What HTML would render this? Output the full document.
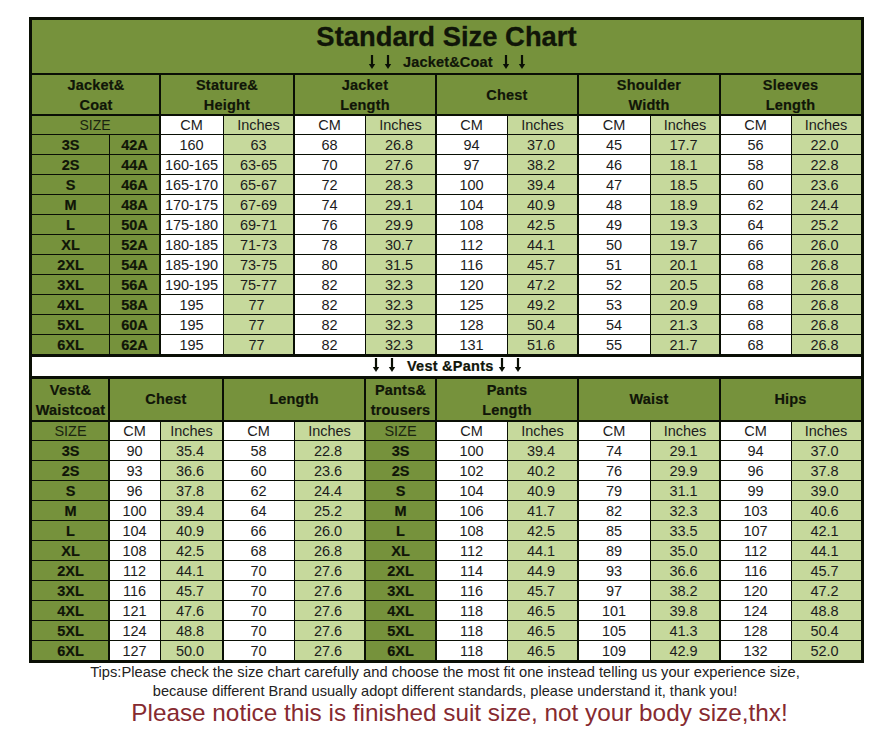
<!DOCTYPE html><html><head><meta charset="utf-8"><style>
html,body{margin:0;padding:0;background:#fff;}
body{width:890px;height:730px;position:relative;overflow:hidden;font-family:"Liberation Sans",sans-serif;}
.r{position:absolute;}
.t{position:absolute;text-align:center;white-space:nowrap;}
.title{font-size:27.4px;font-weight:bold;color:#101508;-webkit-text-stroke:0.3px #101508;}
.sub{font-size:14.5px;font-weight:bold;color:#101508;-webkit-text-stroke:0.2px #101508;}
.hdr{font-size:14.5px;font-weight:bold;letter-spacing:0.2px;color:#101508;-webkit-text-stroke:0.2px #101508;line-height:20px;display:flex;align-items:center;justify-content:center;}
.sz{font-size:14.5px;color:#1a2410;}
.cm{font-size:14.5px;color:#1c1c1c;}
.b{font-size:14.5px;font-weight:bold;color:#101508;-webkit-text-stroke:0.2px #101508;}
.d{font-size:14.5px;color:#1c1c1c;}
.tip{font-size:14.6px;color:#222;}
.red{font-size:24.3px;color:#862a30;}
</style></head><body>
<div class="r" style="left:29px;top:17px;width:835px;height:646px;background:#76923c"></div>
<div class="r" style="left:160px;top:115px;width:63px;height:240px;background:#ffffff"></div>
<div class="r" style="left:223px;top:115px;width:71px;height:240px;background:#c6d99c"></div>
<div class="r" style="left:294px;top:115px;width:71px;height:240px;background:#ffffff"></div>
<div class="r" style="left:365px;top:115px;width:71px;height:240px;background:#c6d99c"></div>
<div class="r" style="left:436px;top:115px;width:71px;height:240px;background:#ffffff"></div>
<div class="r" style="left:507px;top:115px;width:71px;height:240px;background:#c6d99c"></div>
<div class="r" style="left:578px;top:115px;width:72px;height:240px;background:#ffffff"></div>
<div class="r" style="left:650px;top:115px;width:70px;height:240px;background:#c6d99c"></div>
<div class="r" style="left:720px;top:115px;width:71px;height:240px;background:#ffffff"></div>
<div class="r" style="left:791px;top:115px;width:70px;height:240px;background:#c6d99c"></div>
<div class="r" style="left:32px;top:355px;width:829px;height:23px;background:#ffffff"></div>
<div class="r" style="left:109px;top:421px;width:51px;height:239px;background:#ffffff"></div>
<div class="r" style="left:160px;top:421px;width:63px;height:239px;background:#c6d99c"></div>
<div class="r" style="left:223px;top:421px;width:71px;height:239px;background:#ffffff"></div>
<div class="r" style="left:294px;top:421px;width:71px;height:239px;background:#c6d99c"></div>
<div class="r" style="left:436px;top:421px;width:71px;height:239px;background:#ffffff"></div>
<div class="r" style="left:507px;top:421px;width:71px;height:239px;background:#c6d99c"></div>
<div class="r" style="left:578px;top:421px;width:72px;height:239px;background:#ffffff"></div>
<div class="r" style="left:650px;top:421px;width:70px;height:239px;background:#c6d99c"></div>
<div class="r" style="left:720px;top:421px;width:71px;height:239px;background:#ffffff"></div>
<div class="r" style="left:791px;top:421px;width:70px;height:239px;background:#c6d99c"></div>
<div class="r" style="left:29px;top:17px;width:835px;height:3px;background:#0a0f05"></div>
<div class="r" style="left:29px;top:660px;width:835px;height:3px;background:#0a0f05"></div>
<div class="r" style="left:29px;top:17px;width:3px;height:646px;background:#0a0f05"></div>
<div class="r" style="left:861px;top:17px;width:3px;height:646px;background:#0a0f05"></div>
<div class="r" style="left:32px;top:73px;width:829px;height:2px;background:#0a0f05"></div>
<div class="r" style="left:32px;top:114px;width:829px;height:2px;background:#0a0f05"></div>
<div class="r" style="left:32px;top:134px;width:829px;height:1px;background:#0a0f05"></div>
<div class="r" style="left:32px;top:154px;width:829px;height:1px;background:#0a0f05"></div>
<div class="r" style="left:32px;top:174px;width:829px;height:1px;background:#0a0f05"></div>
<div class="r" style="left:32px;top:194px;width:829px;height:1px;background:#0a0f05"></div>
<div class="r" style="left:32px;top:214px;width:829px;height:1px;background:#0a0f05"></div>
<div class="r" style="left:32px;top:234px;width:829px;height:1px;background:#0a0f05"></div>
<div class="r" style="left:32px;top:254px;width:829px;height:1px;background:#0a0f05"></div>
<div class="r" style="left:32px;top:274px;width:829px;height:1px;background:#0a0f05"></div>
<div class="r" style="left:32px;top:294px;width:829px;height:1px;background:#0a0f05"></div>
<div class="r" style="left:32px;top:314px;width:829px;height:1px;background:#0a0f05"></div>
<div class="r" style="left:32px;top:334px;width:829px;height:1px;background:#0a0f05"></div>
<div class="r" style="left:32px;top:354px;width:829px;height:3px;background:#0a0f05"></div>
<div class="r" style="left:32px;top:376px;width:829px;height:3px;background:#0a0f05"></div>
<div class="r" style="left:32px;top:420px;width:829px;height:2px;background:#0a0f05"></div>
<div class="r" style="left:32px;top:440px;width:829px;height:1px;background:#0a0f05"></div>
<div class="r" style="left:32px;top:460px;width:829px;height:1px;background:#0a0f05"></div>
<div class="r" style="left:32px;top:480px;width:829px;height:1px;background:#0a0f05"></div>
<div class="r" style="left:32px;top:500px;width:829px;height:1px;background:#0a0f05"></div>
<div class="r" style="left:32px;top:520px;width:829px;height:1px;background:#0a0f05"></div>
<div class="r" style="left:32px;top:540px;width:829px;height:1px;background:#0a0f05"></div>
<div class="r" style="left:32px;top:560px;width:829px;height:1px;background:#0a0f05"></div>
<div class="r" style="left:32px;top:580px;width:829px;height:1px;background:#0a0f05"></div>
<div class="r" style="left:32px;top:600px;width:829px;height:1px;background:#0a0f05"></div>
<div class="r" style="left:32px;top:620px;width:829px;height:1px;background:#0a0f05"></div>
<div class="r" style="left:32px;top:640px;width:829px;height:1px;background:#0a0f05"></div>
<div class="r" style="left:109px;top:135px;width:1px;height:220px;background:#0a0f05"></div>
<div class="r" style="left:159px;top:74px;width:2px;height:281px;background:#0a0f05"></div>
<div class="r" style="left:293px;top:74px;width:2px;height:281px;background:#0a0f05"></div>
<div class="r" style="left:435px;top:74px;width:2px;height:281px;background:#0a0f05"></div>
<div class="r" style="left:577px;top:74px;width:2px;height:281px;background:#0a0f05"></div>
<div class="r" style="left:719px;top:74px;width:2px;height:281px;background:#0a0f05"></div>
<div class="r" style="left:223px;top:115px;width:1px;height:240px;background:#0a0f05"></div>
<div class="r" style="left:365px;top:115px;width:1px;height:240px;background:#0a0f05"></div>
<div class="r" style="left:507px;top:115px;width:1px;height:240px;background:#0a0f05"></div>
<div class="r" style="left:650px;top:115px;width:1px;height:240px;background:#0a0f05"></div>
<div class="r" style="left:791px;top:115px;width:1px;height:240px;background:#0a0f05"></div>
<div class="r" style="left:108px;top:378px;width:2px;height:282px;background:#0a0f05"></div>
<div class="r" style="left:222px;top:378px;width:2px;height:282px;background:#0a0f05"></div>
<div class="r" style="left:364px;top:378px;width:2px;height:282px;background:#0a0f05"></div>
<div class="r" style="left:435px;top:378px;width:2px;height:282px;background:#0a0f05"></div>
<div class="r" style="left:577px;top:378px;width:2px;height:282px;background:#0a0f05"></div>
<div class="r" style="left:719px;top:378px;width:2px;height:282px;background:#0a0f05"></div>
<div class="r" style="left:160px;top:421px;width:1px;height:239px;background:#0a0f05"></div>
<div class="r" style="left:294px;top:421px;width:1px;height:239px;background:#0a0f05"></div>
<div class="r" style="left:507px;top:421px;width:1px;height:239px;background:#0a0f05"></div>
<div class="r" style="left:650px;top:421px;width:1px;height:239px;background:#0a0f05"></div>
<div class="r" style="left:791px;top:421px;width:1px;height:239px;background:#0a0f05"></div>
<div class="t title" style="left:32px;top:20px;width:829px;height:34px;line-height:34px">Standard Size Chart</div>
<div class="t sub" style="left:403px;top:52px;width:auto;text-align:left;height:20px;line-height:20px;letter-spacing:0.17px">Jacket&amp;Coat</div>
<svg class="r" style="left:366.80px;top:53.70px" width="10" height="15.90" viewBox="0 0 10 15.90"><rect x="3.90" y="1.00" width="2.2" height="9.90" fill="#0a0f05"/><path d="M1.80 9.90 L8.20 9.90 L5.00 14.90 Z" fill="#0a0f05"/></svg>
<svg class="r" style="left:382.60px;top:53.70px" width="10" height="15.90" viewBox="0 0 10 15.90"><rect x="3.90" y="1.00" width="2.2" height="9.90" fill="#0a0f05"/><path d="M1.80 9.90 L8.20 9.90 L5.00 14.90 Z" fill="#0a0f05"/></svg>
<svg class="r" style="left:500.70px;top:53.70px" width="10" height="15.90" viewBox="0 0 10 15.90"><rect x="3.90" y="1.00" width="2.2" height="9.90" fill="#0a0f05"/><path d="M1.80 9.90 L8.20 9.90 L5.00 14.90 Z" fill="#0a0f05"/></svg>
<svg class="r" style="left:516.90px;top:53.70px" width="10" height="15.90" viewBox="0 0 10 15.90"><rect x="3.90" y="1.00" width="2.2" height="9.90" fill="#0a0f05"/><path d="M1.80 9.90 L8.20 9.90 L5.00 14.90 Z" fill="#0a0f05"/></svg>
<div class="t hdr" style="left:32px;top:75px;width:128px;height:39px">Jacket&amp;<br>Coat</div>
<div class="t hdr" style="left:160px;top:75px;width:134px;height:39px">Stature&amp;<br>Height</div>
<div class="t hdr" style="left:294px;top:75px;width:142px;height:39px">Jacket<br>Length</div>
<div class="t hdr" style="left:436px;top:75px;width:142px;height:39px">Chest</div>
<div class="t hdr" style="left:578px;top:75px;width:142px;height:39px">Shoulder<br>Width</div>
<div class="t hdr" style="left:720px;top:75px;width:141px;height:39px">Sleeves<br>Length</div>
<div class="t sz" style="left:31px;top:115px;width:128px;height:20px;line-height:20px;font-size:14px">SIZE</div>
<div class="t cm" style="left:160px;top:115px;width:63px;height:20px;line-height:20px">CM</div>
<div class="t cm" style="left:223px;top:115px;width:71px;height:20px;line-height:20px">Inches</div>
<div class="t cm" style="left:294px;top:115px;width:71px;height:20px;line-height:20px">CM</div>
<div class="t cm" style="left:365px;top:115px;width:71px;height:20px;line-height:20px">Inches</div>
<div class="t cm" style="left:436px;top:115px;width:71px;height:20px;line-height:20px">CM</div>
<div class="t cm" style="left:507px;top:115px;width:71px;height:20px;line-height:20px">Inches</div>
<div class="t cm" style="left:578px;top:115px;width:72px;height:20px;line-height:20px">CM</div>
<div class="t cm" style="left:650px;top:115px;width:70px;height:20px;line-height:20px">Inches</div>
<div class="t cm" style="left:720px;top:115px;width:71px;height:20px;line-height:20px">CM</div>
<div class="t cm" style="left:791px;top:115px;width:70px;height:20px;line-height:20px">Inches</div>
<div class="t b" style="left:32px;top:135px;width:77px;height:20px;line-height:20px">3S</div>
<div class="t b" style="left:109px;top:135px;width:51px;height:20px;line-height:20px">42A</div>
<div class="t d" style="left:160px;top:135px;width:63px;height:20px;line-height:20px">160</div>
<div class="t d" style="left:223px;top:135px;width:71px;height:20px;line-height:20px">63</div>
<div class="t d" style="left:294px;top:135px;width:71px;height:20px;line-height:20px">68</div>
<div class="t d" style="left:363.5px;top:135px;width:71.0px;height:20px;line-height:20px">26.8</div>
<div class="t d" style="left:436px;top:135px;width:71px;height:20px;line-height:20px">94</div>
<div class="t d" style="left:505.5px;top:135px;width:71.0px;height:20px;line-height:20px">37.0</div>
<div class="t d" style="left:578px;top:135px;width:72px;height:20px;line-height:20px">45</div>
<div class="t d" style="left:648.5px;top:135px;width:70.0px;height:20px;line-height:20px">17.7</div>
<div class="t d" style="left:720px;top:135px;width:71px;height:20px;line-height:20px">56</div>
<div class="t d" style="left:789.5px;top:135px;width:70.0px;height:20px;line-height:20px">22.0</div>
<div class="t b" style="left:32px;top:155px;width:77px;height:20px;line-height:20px">2S</div>
<div class="t b" style="left:109px;top:155px;width:51px;height:20px;line-height:20px">44A</div>
<div class="t d" style="left:160px;top:155px;width:63px;height:20px;line-height:20px">160-165</div>
<div class="t d" style="left:223px;top:155px;width:71px;height:20px;line-height:20px">63-65</div>
<div class="t d" style="left:294px;top:155px;width:71px;height:20px;line-height:20px">70</div>
<div class="t d" style="left:363.5px;top:155px;width:71.0px;height:20px;line-height:20px">27.6</div>
<div class="t d" style="left:436px;top:155px;width:71px;height:20px;line-height:20px">97</div>
<div class="t d" style="left:505.5px;top:155px;width:71.0px;height:20px;line-height:20px">38.2</div>
<div class="t d" style="left:578px;top:155px;width:72px;height:20px;line-height:20px">46</div>
<div class="t d" style="left:648.5px;top:155px;width:70.0px;height:20px;line-height:20px">18.1</div>
<div class="t d" style="left:720px;top:155px;width:71px;height:20px;line-height:20px">58</div>
<div class="t d" style="left:789.5px;top:155px;width:70.0px;height:20px;line-height:20px">22.8</div>
<div class="t b" style="left:32px;top:175px;width:77px;height:20px;line-height:20px">S</div>
<div class="t b" style="left:109px;top:175px;width:51px;height:20px;line-height:20px">46A</div>
<div class="t d" style="left:160px;top:175px;width:63px;height:20px;line-height:20px">165-170</div>
<div class="t d" style="left:223px;top:175px;width:71px;height:20px;line-height:20px">65-67</div>
<div class="t d" style="left:294px;top:175px;width:71px;height:20px;line-height:20px">72</div>
<div class="t d" style="left:363.5px;top:175px;width:71.0px;height:20px;line-height:20px">28.3</div>
<div class="t d" style="left:436px;top:175px;width:71px;height:20px;line-height:20px">100</div>
<div class="t d" style="left:505.5px;top:175px;width:71.0px;height:20px;line-height:20px">39.4</div>
<div class="t d" style="left:578px;top:175px;width:72px;height:20px;line-height:20px">47</div>
<div class="t d" style="left:648.5px;top:175px;width:70.0px;height:20px;line-height:20px">18.5</div>
<div class="t d" style="left:720px;top:175px;width:71px;height:20px;line-height:20px">60</div>
<div class="t d" style="left:789.5px;top:175px;width:70.0px;height:20px;line-height:20px">23.6</div>
<div class="t b" style="left:32px;top:195px;width:77px;height:20px;line-height:20px">M</div>
<div class="t b" style="left:109px;top:195px;width:51px;height:20px;line-height:20px">48A</div>
<div class="t d" style="left:160px;top:195px;width:63px;height:20px;line-height:20px">170-175</div>
<div class="t d" style="left:223px;top:195px;width:71px;height:20px;line-height:20px">67-69</div>
<div class="t d" style="left:294px;top:195px;width:71px;height:20px;line-height:20px">74</div>
<div class="t d" style="left:363.5px;top:195px;width:71.0px;height:20px;line-height:20px">29.1</div>
<div class="t d" style="left:436px;top:195px;width:71px;height:20px;line-height:20px">104</div>
<div class="t d" style="left:505.5px;top:195px;width:71.0px;height:20px;line-height:20px">40.9</div>
<div class="t d" style="left:578px;top:195px;width:72px;height:20px;line-height:20px">48</div>
<div class="t d" style="left:648.5px;top:195px;width:70.0px;height:20px;line-height:20px">18.9</div>
<div class="t d" style="left:720px;top:195px;width:71px;height:20px;line-height:20px">62</div>
<div class="t d" style="left:789.5px;top:195px;width:70.0px;height:20px;line-height:20px">24.4</div>
<div class="t b" style="left:32px;top:215px;width:77px;height:20px;line-height:20px">L</div>
<div class="t b" style="left:109px;top:215px;width:51px;height:20px;line-height:20px">50A</div>
<div class="t d" style="left:160px;top:215px;width:63px;height:20px;line-height:20px">175-180</div>
<div class="t d" style="left:223px;top:215px;width:71px;height:20px;line-height:20px">69-71</div>
<div class="t d" style="left:294px;top:215px;width:71px;height:20px;line-height:20px">76</div>
<div class="t d" style="left:363.5px;top:215px;width:71.0px;height:20px;line-height:20px">29.9</div>
<div class="t d" style="left:436px;top:215px;width:71px;height:20px;line-height:20px">108</div>
<div class="t d" style="left:505.5px;top:215px;width:71.0px;height:20px;line-height:20px">42.5</div>
<div class="t d" style="left:578px;top:215px;width:72px;height:20px;line-height:20px">49</div>
<div class="t d" style="left:648.5px;top:215px;width:70.0px;height:20px;line-height:20px">19.3</div>
<div class="t d" style="left:720px;top:215px;width:71px;height:20px;line-height:20px">64</div>
<div class="t d" style="left:789.5px;top:215px;width:70.0px;height:20px;line-height:20px">25.2</div>
<div class="t b" style="left:32px;top:235px;width:77px;height:20px;line-height:20px">XL</div>
<div class="t b" style="left:109px;top:235px;width:51px;height:20px;line-height:20px">52A</div>
<div class="t d" style="left:160px;top:235px;width:63px;height:20px;line-height:20px">180-185</div>
<div class="t d" style="left:223px;top:235px;width:71px;height:20px;line-height:20px">71-73</div>
<div class="t d" style="left:294px;top:235px;width:71px;height:20px;line-height:20px">78</div>
<div class="t d" style="left:363.5px;top:235px;width:71.0px;height:20px;line-height:20px">30.7</div>
<div class="t d" style="left:436px;top:235px;width:71px;height:20px;line-height:20px">112</div>
<div class="t d" style="left:505.5px;top:235px;width:71.0px;height:20px;line-height:20px">44.1</div>
<div class="t d" style="left:578px;top:235px;width:72px;height:20px;line-height:20px">50</div>
<div class="t d" style="left:648.5px;top:235px;width:70.0px;height:20px;line-height:20px">19.7</div>
<div class="t d" style="left:720px;top:235px;width:71px;height:20px;line-height:20px">66</div>
<div class="t d" style="left:789.5px;top:235px;width:70.0px;height:20px;line-height:20px">26.0</div>
<div class="t b" style="left:32px;top:255px;width:77px;height:20px;line-height:20px">2XL</div>
<div class="t b" style="left:109px;top:255px;width:51px;height:20px;line-height:20px">54A</div>
<div class="t d" style="left:160px;top:255px;width:63px;height:20px;line-height:20px">185-190</div>
<div class="t d" style="left:223px;top:255px;width:71px;height:20px;line-height:20px">73-75</div>
<div class="t d" style="left:294px;top:255px;width:71px;height:20px;line-height:20px">80</div>
<div class="t d" style="left:363.5px;top:255px;width:71.0px;height:20px;line-height:20px">31.5</div>
<div class="t d" style="left:436px;top:255px;width:71px;height:20px;line-height:20px">116</div>
<div class="t d" style="left:505.5px;top:255px;width:71.0px;height:20px;line-height:20px">45.7</div>
<div class="t d" style="left:578px;top:255px;width:72px;height:20px;line-height:20px">51</div>
<div class="t d" style="left:648.5px;top:255px;width:70.0px;height:20px;line-height:20px">20.1</div>
<div class="t d" style="left:720px;top:255px;width:71px;height:20px;line-height:20px">68</div>
<div class="t d" style="left:789.5px;top:255px;width:70.0px;height:20px;line-height:20px">26.8</div>
<div class="t b" style="left:32px;top:275px;width:77px;height:20px;line-height:20px">3XL</div>
<div class="t b" style="left:109px;top:275px;width:51px;height:20px;line-height:20px">56A</div>
<div class="t d" style="left:160px;top:275px;width:63px;height:20px;line-height:20px">190-195</div>
<div class="t d" style="left:223px;top:275px;width:71px;height:20px;line-height:20px">75-77</div>
<div class="t d" style="left:294px;top:275px;width:71px;height:20px;line-height:20px">82</div>
<div class="t d" style="left:363.5px;top:275px;width:71.0px;height:20px;line-height:20px">32.3</div>
<div class="t d" style="left:436px;top:275px;width:71px;height:20px;line-height:20px">120</div>
<div class="t d" style="left:505.5px;top:275px;width:71.0px;height:20px;line-height:20px">47.2</div>
<div class="t d" style="left:578px;top:275px;width:72px;height:20px;line-height:20px">52</div>
<div class="t d" style="left:648.5px;top:275px;width:70.0px;height:20px;line-height:20px">20.5</div>
<div class="t d" style="left:720px;top:275px;width:71px;height:20px;line-height:20px">68</div>
<div class="t d" style="left:789.5px;top:275px;width:70.0px;height:20px;line-height:20px">26.8</div>
<div class="t b" style="left:32px;top:295px;width:77px;height:20px;line-height:20px">4XL</div>
<div class="t b" style="left:109px;top:295px;width:51px;height:20px;line-height:20px">58A</div>
<div class="t d" style="left:160px;top:295px;width:63px;height:20px;line-height:20px">195</div>
<div class="t d" style="left:221px;top:295px;width:71px;height:20px;line-height:20px">77</div>
<div class="t d" style="left:294px;top:295px;width:71px;height:20px;line-height:20px">82</div>
<div class="t d" style="left:363.5px;top:295px;width:71.0px;height:20px;line-height:20px">32.3</div>
<div class="t d" style="left:436px;top:295px;width:71px;height:20px;line-height:20px">125</div>
<div class="t d" style="left:505.5px;top:295px;width:71.0px;height:20px;line-height:20px">49.2</div>
<div class="t d" style="left:578px;top:295px;width:72px;height:20px;line-height:20px">53</div>
<div class="t d" style="left:648.5px;top:295px;width:70.0px;height:20px;line-height:20px">20.9</div>
<div class="t d" style="left:720px;top:295px;width:71px;height:20px;line-height:20px">68</div>
<div class="t d" style="left:789.5px;top:295px;width:70.0px;height:20px;line-height:20px">26.8</div>
<div class="t b" style="left:32px;top:315px;width:77px;height:20px;line-height:20px">5XL</div>
<div class="t b" style="left:109px;top:315px;width:51px;height:20px;line-height:20px">60A</div>
<div class="t d" style="left:160px;top:315px;width:63px;height:20px;line-height:20px">195</div>
<div class="t d" style="left:221px;top:315px;width:71px;height:20px;line-height:20px">77</div>
<div class="t d" style="left:294px;top:315px;width:71px;height:20px;line-height:20px">82</div>
<div class="t d" style="left:363.5px;top:315px;width:71.0px;height:20px;line-height:20px">32.3</div>
<div class="t d" style="left:436px;top:315px;width:71px;height:20px;line-height:20px">128</div>
<div class="t d" style="left:505.5px;top:315px;width:71.0px;height:20px;line-height:20px">50.4</div>
<div class="t d" style="left:578px;top:315px;width:72px;height:20px;line-height:20px">54</div>
<div class="t d" style="left:648.5px;top:315px;width:70.0px;height:20px;line-height:20px">21.3</div>
<div class="t d" style="left:720px;top:315px;width:71px;height:20px;line-height:20px">68</div>
<div class="t d" style="left:789.5px;top:315px;width:70.0px;height:20px;line-height:20px">26.8</div>
<div class="t b" style="left:32px;top:335px;width:77px;height:20px;line-height:20px">6XL</div>
<div class="t b" style="left:109px;top:335px;width:51px;height:20px;line-height:20px">62A</div>
<div class="t d" style="left:160px;top:335px;width:63px;height:20px;line-height:20px">195</div>
<div class="t d" style="left:221px;top:335px;width:71px;height:20px;line-height:20px">77</div>
<div class="t d" style="left:294px;top:335px;width:71px;height:20px;line-height:20px">82</div>
<div class="t d" style="left:363.5px;top:335px;width:71.0px;height:20px;line-height:20px">32.3</div>
<div class="t d" style="left:436px;top:335px;width:71px;height:20px;line-height:20px">131</div>
<div class="t d" style="left:505.5px;top:335px;width:71.0px;height:20px;line-height:20px">51.6</div>
<div class="t d" style="left:578px;top:335px;width:72px;height:20px;line-height:20px">55</div>
<div class="t d" style="left:648.5px;top:335px;width:70.0px;height:20px;line-height:20px">21.7</div>
<div class="t d" style="left:720px;top:335px;width:71px;height:20px;line-height:20px">68</div>
<div class="t d" style="left:789.5px;top:335px;width:70.0px;height:20px;line-height:20px">26.8</div>
<div class="t sub" style="left:407px;top:356px;width:auto;text-align:left;height:20px;line-height:20px;letter-spacing:0.25px">Vest &amp;Pants</div>
<svg class="r" style="left:370.80px;top:357.00px" width="10" height="15.90" viewBox="0 0 10 15.90"><rect x="3.90" y="1.00" width="2.2" height="9.90" fill="#0a0f05"/><path d="M1.80 9.90 L8.20 9.90 L5.00 14.90 Z" fill="#0a0f05"/></svg>
<svg class="r" style="left:387.00px;top:357.00px" width="10" height="15.90" viewBox="0 0 10 15.90"><rect x="3.90" y="1.00" width="2.2" height="9.90" fill="#0a0f05"/><path d="M1.80 9.90 L8.20 9.90 L5.00 14.90 Z" fill="#0a0f05"/></svg>
<svg class="r" style="left:497.00px;top:357.00px" width="10" height="15.90" viewBox="0 0 10 15.90"><rect x="3.90" y="1.00" width="2.2" height="9.90" fill="#0a0f05"/><path d="M1.80 9.90 L8.20 9.90 L5.00 14.90 Z" fill="#0a0f05"/></svg>
<svg class="r" style="left:512.80px;top:357.00px" width="10" height="15.90" viewBox="0 0 10 15.90"><rect x="3.90" y="1.00" width="2.2" height="9.90" fill="#0a0f05"/><path d="M1.80 9.90 L8.20 9.90 L5.00 14.90 Z" fill="#0a0f05"/></svg>
<div class="t hdr" style="left:32px;top:379px;width:77px;height:41px">Vest&amp;<br>Waistcoat</div>
<div class="t hdr" style="left:109px;top:378px;width:114px;height:41px">Chest</div>
<div class="t hdr" style="left:223px;top:378px;width:142px;height:41px">Length</div>
<div class="t hdr" style="left:365px;top:379px;width:71px;height:41px">Pants&amp;<br>trousers</div>
<div class="t hdr" style="left:436px;top:379px;width:142px;height:41px">Pants<br>Length</div>
<div class="t hdr" style="left:578px;top:378px;width:142px;height:41px">Waist</div>
<div class="t hdr" style="left:720px;top:378px;width:141px;height:41px">Hips</div>
<div class="t sz" style="left:32px;top:421px;width:77px;height:20px;line-height:20px">SIZE</div>
<div class="t sz" style="left:365px;top:421px;width:71px;height:20px;line-height:20px">SIZE</div>
<div class="t cm" style="left:109px;top:421px;width:51px;height:20px;line-height:20px">CM</div>
<div class="t cm" style="left:160px;top:421px;width:63px;height:20px;line-height:20px">Inches</div>
<div class="t cm" style="left:223px;top:421px;width:71px;height:20px;line-height:20px">CM</div>
<div class="t cm" style="left:294px;top:421px;width:71px;height:20px;line-height:20px">Inches</div>
<div class="t cm" style="left:436px;top:421px;width:71px;height:20px;line-height:20px">CM</div>
<div class="t cm" style="left:507px;top:421px;width:71px;height:20px;line-height:20px">Inches</div>
<div class="t cm" style="left:578px;top:421px;width:72px;height:20px;line-height:20px">CM</div>
<div class="t cm" style="left:650px;top:421px;width:70px;height:20px;line-height:20px">Inches</div>
<div class="t cm" style="left:720px;top:421px;width:71px;height:20px;line-height:20px">CM</div>
<div class="t cm" style="left:791px;top:421px;width:70px;height:20px;line-height:20px">Inches</div>
<div class="t b" style="left:32px;top:441px;width:77px;height:20px;line-height:20px">3S</div>
<div class="t b" style="left:365px;top:441px;width:71px;height:20px;line-height:20px">3S</div>
<div class="t d" style="left:109px;top:441px;width:51px;height:20px;line-height:20px">90</div>
<div class="t d" style="left:158.5px;top:441px;width:63.0px;height:20px;line-height:20px">35.4</div>
<div class="t d" style="left:223px;top:441px;width:71px;height:20px;line-height:20px">58</div>
<div class="t d" style="left:292.5px;top:441px;width:71.0px;height:20px;line-height:20px">22.8</div>
<div class="t d" style="left:436px;top:441px;width:71px;height:20px;line-height:20px">100</div>
<div class="t d" style="left:505.5px;top:441px;width:71.0px;height:20px;line-height:20px">39.4</div>
<div class="t d" style="left:578px;top:441px;width:72px;height:20px;line-height:20px">74</div>
<div class="t d" style="left:648.5px;top:441px;width:70.0px;height:20px;line-height:20px">29.1</div>
<div class="t d" style="left:720px;top:441px;width:71px;height:20px;line-height:20px">94</div>
<div class="t d" style="left:789.5px;top:441px;width:70.0px;height:20px;line-height:20px">37.0</div>
<div class="t b" style="left:32px;top:461px;width:77px;height:20px;line-height:20px">2S</div>
<div class="t b" style="left:365px;top:461px;width:71px;height:20px;line-height:20px">2S</div>
<div class="t d" style="left:109px;top:461px;width:51px;height:20px;line-height:20px">93</div>
<div class="t d" style="left:158.5px;top:461px;width:63.0px;height:20px;line-height:20px">36.6</div>
<div class="t d" style="left:223px;top:461px;width:71px;height:20px;line-height:20px">60</div>
<div class="t d" style="left:292.5px;top:461px;width:71.0px;height:20px;line-height:20px">23.6</div>
<div class="t d" style="left:436px;top:461px;width:71px;height:20px;line-height:20px">102</div>
<div class="t d" style="left:505.5px;top:461px;width:71.0px;height:20px;line-height:20px">40.2</div>
<div class="t d" style="left:578px;top:461px;width:72px;height:20px;line-height:20px">76</div>
<div class="t d" style="left:648.5px;top:461px;width:70.0px;height:20px;line-height:20px">29.9</div>
<div class="t d" style="left:720px;top:461px;width:71px;height:20px;line-height:20px">96</div>
<div class="t d" style="left:789.5px;top:461px;width:70.0px;height:20px;line-height:20px">37.8</div>
<div class="t b" style="left:32px;top:481px;width:77px;height:20px;line-height:20px">S</div>
<div class="t b" style="left:365px;top:481px;width:71px;height:20px;line-height:20px">S</div>
<div class="t d" style="left:109px;top:481px;width:51px;height:20px;line-height:20px">96</div>
<div class="t d" style="left:158.5px;top:481px;width:63.0px;height:20px;line-height:20px">37.8</div>
<div class="t d" style="left:223px;top:481px;width:71px;height:20px;line-height:20px">62</div>
<div class="t d" style="left:292.5px;top:481px;width:71.0px;height:20px;line-height:20px">24.4</div>
<div class="t d" style="left:436px;top:481px;width:71px;height:20px;line-height:20px">104</div>
<div class="t d" style="left:505.5px;top:481px;width:71.0px;height:20px;line-height:20px">40.9</div>
<div class="t d" style="left:578px;top:481px;width:72px;height:20px;line-height:20px">79</div>
<div class="t d" style="left:648.5px;top:481px;width:70.0px;height:20px;line-height:20px">31.1</div>
<div class="t d" style="left:720px;top:481px;width:71px;height:20px;line-height:20px">99</div>
<div class="t d" style="left:789.5px;top:481px;width:70.0px;height:20px;line-height:20px">39.0</div>
<div class="t b" style="left:32px;top:501px;width:77px;height:20px;line-height:20px">M</div>
<div class="t b" style="left:365px;top:501px;width:71px;height:20px;line-height:20px">M</div>
<div class="t d" style="left:109px;top:501px;width:51px;height:20px;line-height:20px">100</div>
<div class="t d" style="left:158.5px;top:501px;width:63.0px;height:20px;line-height:20px">39.4</div>
<div class="t d" style="left:223px;top:501px;width:71px;height:20px;line-height:20px">64</div>
<div class="t d" style="left:292.5px;top:501px;width:71.0px;height:20px;line-height:20px">25.2</div>
<div class="t d" style="left:436px;top:501px;width:71px;height:20px;line-height:20px">106</div>
<div class="t d" style="left:505.5px;top:501px;width:71.0px;height:20px;line-height:20px">41.7</div>
<div class="t d" style="left:578px;top:501px;width:72px;height:20px;line-height:20px">82</div>
<div class="t d" style="left:648.5px;top:501px;width:70.0px;height:20px;line-height:20px">32.3</div>
<div class="t d" style="left:720px;top:501px;width:71px;height:20px;line-height:20px">103</div>
<div class="t d" style="left:789.5px;top:501px;width:70.0px;height:20px;line-height:20px">40.6</div>
<div class="t b" style="left:32px;top:521px;width:77px;height:20px;line-height:20px">L</div>
<div class="t b" style="left:365px;top:521px;width:71px;height:20px;line-height:20px">L</div>
<div class="t d" style="left:109px;top:521px;width:51px;height:20px;line-height:20px">104</div>
<div class="t d" style="left:158.5px;top:521px;width:63.0px;height:20px;line-height:20px">40.9</div>
<div class="t d" style="left:223px;top:521px;width:71px;height:20px;line-height:20px">66</div>
<div class="t d" style="left:292.5px;top:521px;width:71.0px;height:20px;line-height:20px">26.0</div>
<div class="t d" style="left:436px;top:521px;width:71px;height:20px;line-height:20px">108</div>
<div class="t d" style="left:505.5px;top:521px;width:71.0px;height:20px;line-height:20px">42.5</div>
<div class="t d" style="left:578px;top:521px;width:72px;height:20px;line-height:20px">85</div>
<div class="t d" style="left:648.5px;top:521px;width:70.0px;height:20px;line-height:20px">33.5</div>
<div class="t d" style="left:720px;top:521px;width:71px;height:20px;line-height:20px">107</div>
<div class="t d" style="left:789.5px;top:521px;width:70.0px;height:20px;line-height:20px">42.1</div>
<div class="t b" style="left:32px;top:541px;width:77px;height:20px;line-height:20px">XL</div>
<div class="t b" style="left:365px;top:541px;width:71px;height:20px;line-height:20px">XL</div>
<div class="t d" style="left:109px;top:541px;width:51px;height:20px;line-height:20px">108</div>
<div class="t d" style="left:158.5px;top:541px;width:63.0px;height:20px;line-height:20px">42.5</div>
<div class="t d" style="left:223px;top:541px;width:71px;height:20px;line-height:20px">68</div>
<div class="t d" style="left:292.5px;top:541px;width:71.0px;height:20px;line-height:20px">26.8</div>
<div class="t d" style="left:436px;top:541px;width:71px;height:20px;line-height:20px">112</div>
<div class="t d" style="left:505.5px;top:541px;width:71.0px;height:20px;line-height:20px">44.1</div>
<div class="t d" style="left:578px;top:541px;width:72px;height:20px;line-height:20px">89</div>
<div class="t d" style="left:648.5px;top:541px;width:70.0px;height:20px;line-height:20px">35.0</div>
<div class="t d" style="left:720px;top:541px;width:71px;height:20px;line-height:20px">112</div>
<div class="t d" style="left:789.5px;top:541px;width:70.0px;height:20px;line-height:20px">44.1</div>
<div class="t b" style="left:32px;top:561px;width:77px;height:20px;line-height:20px">2XL</div>
<div class="t b" style="left:365px;top:561px;width:71px;height:20px;line-height:20px">2XL</div>
<div class="t d" style="left:109px;top:561px;width:51px;height:20px;line-height:20px">112</div>
<div class="t d" style="left:158.5px;top:561px;width:63.0px;height:20px;line-height:20px">44.1</div>
<div class="t d" style="left:223px;top:561px;width:71px;height:20px;line-height:20px">70</div>
<div class="t d" style="left:292.5px;top:561px;width:71.0px;height:20px;line-height:20px">27.6</div>
<div class="t d" style="left:436px;top:561px;width:71px;height:20px;line-height:20px">114</div>
<div class="t d" style="left:505.5px;top:561px;width:71.0px;height:20px;line-height:20px">44.9</div>
<div class="t d" style="left:578px;top:561px;width:72px;height:20px;line-height:20px">93</div>
<div class="t d" style="left:648.5px;top:561px;width:70.0px;height:20px;line-height:20px">36.6</div>
<div class="t d" style="left:720px;top:561px;width:71px;height:20px;line-height:20px">116</div>
<div class="t d" style="left:789.5px;top:561px;width:70.0px;height:20px;line-height:20px">45.7</div>
<div class="t b" style="left:32px;top:581px;width:77px;height:20px;line-height:20px">3XL</div>
<div class="t b" style="left:365px;top:581px;width:71px;height:20px;line-height:20px">3XL</div>
<div class="t d" style="left:109px;top:581px;width:51px;height:20px;line-height:20px">116</div>
<div class="t d" style="left:158.5px;top:581px;width:63.0px;height:20px;line-height:20px">45.7</div>
<div class="t d" style="left:223px;top:581px;width:71px;height:20px;line-height:20px">70</div>
<div class="t d" style="left:292.5px;top:581px;width:71.0px;height:20px;line-height:20px">27.6</div>
<div class="t d" style="left:436px;top:581px;width:71px;height:20px;line-height:20px">116</div>
<div class="t d" style="left:505.5px;top:581px;width:71.0px;height:20px;line-height:20px">45.7</div>
<div class="t d" style="left:578px;top:581px;width:72px;height:20px;line-height:20px">97</div>
<div class="t d" style="left:648.5px;top:581px;width:70.0px;height:20px;line-height:20px">38.2</div>
<div class="t d" style="left:720px;top:581px;width:71px;height:20px;line-height:20px">120</div>
<div class="t d" style="left:789.5px;top:581px;width:70.0px;height:20px;line-height:20px">47.2</div>
<div class="t b" style="left:32px;top:601px;width:77px;height:20px;line-height:20px">4XL</div>
<div class="t b" style="left:365px;top:601px;width:71px;height:20px;line-height:20px">4XL</div>
<div class="t d" style="left:109px;top:601px;width:51px;height:20px;line-height:20px">121</div>
<div class="t d" style="left:158.5px;top:601px;width:63.0px;height:20px;line-height:20px">47.6</div>
<div class="t d" style="left:223px;top:601px;width:71px;height:20px;line-height:20px">70</div>
<div class="t d" style="left:292.5px;top:601px;width:71.0px;height:20px;line-height:20px">27.6</div>
<div class="t d" style="left:436px;top:601px;width:71px;height:20px;line-height:20px">118</div>
<div class="t d" style="left:505.5px;top:601px;width:71.0px;height:20px;line-height:20px">46.5</div>
<div class="t d" style="left:578px;top:601px;width:72px;height:20px;line-height:20px">101</div>
<div class="t d" style="left:648.5px;top:601px;width:70.0px;height:20px;line-height:20px">39.8</div>
<div class="t d" style="left:720px;top:601px;width:71px;height:20px;line-height:20px">124</div>
<div class="t d" style="left:789.5px;top:601px;width:70.0px;height:20px;line-height:20px">48.8</div>
<div class="t b" style="left:32px;top:621px;width:77px;height:20px;line-height:20px">5XL</div>
<div class="t b" style="left:365px;top:621px;width:71px;height:20px;line-height:20px">5XL</div>
<div class="t d" style="left:109px;top:621px;width:51px;height:20px;line-height:20px">124</div>
<div class="t d" style="left:158.5px;top:621px;width:63.0px;height:20px;line-height:20px">48.8</div>
<div class="t d" style="left:223px;top:621px;width:71px;height:20px;line-height:20px">70</div>
<div class="t d" style="left:292.5px;top:621px;width:71.0px;height:20px;line-height:20px">27.6</div>
<div class="t d" style="left:436px;top:621px;width:71px;height:20px;line-height:20px">118</div>
<div class="t d" style="left:505.5px;top:621px;width:71.0px;height:20px;line-height:20px">46.5</div>
<div class="t d" style="left:578px;top:621px;width:72px;height:20px;line-height:20px">105</div>
<div class="t d" style="left:648.5px;top:621px;width:70.0px;height:20px;line-height:20px">41.3</div>
<div class="t d" style="left:720px;top:621px;width:71px;height:20px;line-height:20px">128</div>
<div class="t d" style="left:789.5px;top:621px;width:70.0px;height:20px;line-height:20px">50.4</div>
<div class="t b" style="left:32px;top:641px;width:77px;height:20px;line-height:20px">6XL</div>
<div class="t b" style="left:365px;top:641px;width:71px;height:20px;line-height:20px">6XL</div>
<div class="t d" style="left:109px;top:641px;width:51px;height:20px;line-height:20px">127</div>
<div class="t d" style="left:158.5px;top:641px;width:63.0px;height:20px;line-height:20px">50.0</div>
<div class="t d" style="left:223px;top:641px;width:71px;height:20px;line-height:20px">70</div>
<div class="t d" style="left:292.5px;top:641px;width:71.0px;height:20px;line-height:20px">27.6</div>
<div class="t d" style="left:436px;top:641px;width:71px;height:20px;line-height:20px">118</div>
<div class="t d" style="left:505.5px;top:641px;width:71.0px;height:20px;line-height:20px">46.5</div>
<div class="t d" style="left:578px;top:641px;width:72px;height:20px;line-height:20px">109</div>
<div class="t d" style="left:648.5px;top:641px;width:70.0px;height:20px;line-height:20px">42.9</div>
<div class="t d" style="left:720px;top:641px;width:71px;height:20px;line-height:20px">132</div>
<div class="t d" style="left:789.5px;top:641px;width:70.0px;height:20px;line-height:20px">52.0</div>
<div class="t tip" style="left:0;top:662px;width:890px;height:20px;line-height:20px;font-size:14.7px">Tips:Please check the size chart carefully and choose the most fit one instead telling us your experience size,</div>
<div class="t tip" style="left:0;top:681px;width:890px;height:20px;line-height:20px">because different Brand usually adopt different standards, please understand it, thank you!</div>
<div class="t red" style="left:14.5px;top:698px;width:890px;height:30px;line-height:30px">Please notice this is finished suit size, not your body size,thx!</div>
</body></html>
